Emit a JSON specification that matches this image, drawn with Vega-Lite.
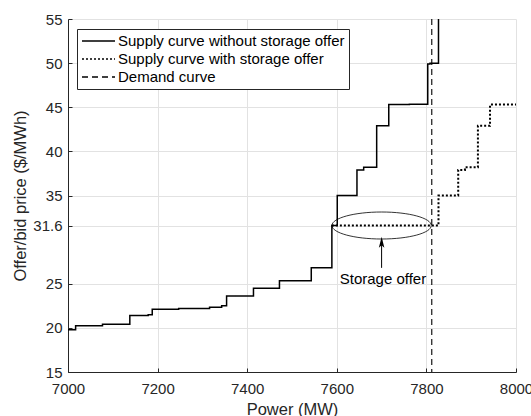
{
  "$schema": "https://vega.github.io/schema/vega-lite/v6.json",
  "width": 448,
  "height": 353,
  "autosize": {"type": "none"},
  "padding": {"left": 68, "top": 19, "right": 15, "bottom": 44},
  "background": "white",
  "config": {
    "font": "Liberation Sans",
    "view": {"stroke": null},
    "axis": {
      "domainColor": "#262626",
      "tickColor": "#262626",
      "labelColor": "#262626",
      "titleColor": "#262626",
      "labelFontSize": 15,
      "titleFontSize": 16.5,
      "titleFontWeight": "normal",
      "gridColor": "#e2e2e2",
      "gridWidth": 1,
      "tickSize": -4,
      "labelFlush": false,
      "labelOverlap": false
    }
  },
  "datasets": {
    "without": [
      {"series": "Supply curve without storage offer", "power": 7000, "price": 19.8},
      {"series": "Supply curve without storage offer", "power": 7017, "price": 20.25},
      {"series": "Supply curve without storage offer", "power": 7077, "price": 20.4},
      {"series": "Supply curve without storage offer", "power": 7138, "price": 21.4},
      {"series": "Supply curve without storage offer", "power": 7179, "price": 21.5},
      {"series": "Supply curve without storage offer", "power": 7188, "price": 22.1},
      {"series": "Supply curve without storage offer", "power": 7247, "price": 22.2},
      {"series": "Supply curve without storage offer", "power": 7316, "price": 22.35},
      {"series": "Supply curve without storage offer", "power": 7343, "price": 22.5},
      {"series": "Supply curve without storage offer", "power": 7354, "price": 23.6},
      {"series": "Supply curve without storage offer", "power": 7414, "price": 24.5},
      {"series": "Supply curve without storage offer", "power": 7472, "price": 25.35},
      {"series": "Supply curve without storage offer", "power": 7543, "price": 26.8},
      {"series": "Supply curve without storage offer", "power": 7589, "price": 31.6},
      {"series": "Supply curve without storage offer", "power": 7601, "price": 35.0},
      {"series": "Supply curve without storage offer", "power": 7645, "price": 37.9},
      {"series": "Supply curve without storage offer", "power": 7660, "price": 38.2},
      {"series": "Supply curve without storage offer", "power": 7689, "price": 42.9},
      {"series": "Supply curve without storage offer", "power": 7716, "price": 45.3},
      {"series": "Supply curve without storage offer", "power": 7762, "price": 45.35},
      {"series": "Supply curve without storage offer", "power": 7803, "price": 49.9},
      {"series": "Supply curve without storage offer", "power": 7808, "price": 50.0},
      {"series": "Supply curve without storage offer", "power": 7827, "price": 58}
    ],
    "with": [
      {"series": "Supply curve with storage offer", "power": 7589, "price": 31.6},
      {"series": "Supply curve with storage offer", "power": 7827, "price": 35.0},
      {"series": "Supply curve with storage offer", "power": 7871, "price": 37.9},
      {"series": "Supply curve with storage offer", "power": 7886, "price": 38.2},
      {"series": "Supply curve with storage offer", "power": 7915, "price": 42.9},
      {"series": "Supply curve with storage offer", "power": 7942, "price": 45.3},
      {"series": "Supply curve with storage offer", "power": 8000, "price": 45.35}
    ],
    "demand": [
      {"series": "Demand curve", "power": 7812}
    ],
    "ellipse": [
      {"power": 7700, "price": 31.6}
    ],
    "arrow": [
      {"power": 7700, "price": 26.8, "price2": 30.0, "tip": 29.7}
    ],
    "label": [
      {"power": 7703, "price": 25.0, "text": "Storage offer"}
    ]
  },
  "layer": [
    {
      "data": {"name": "without"},
      "mark": {"type": "line", "interpolate": "step-after", "clip": true, "color": "black", "strokeWidth": 1.5},
      "encoding": {
        "x": {
          "field": "power", "type": "quantitative",
          "scale": {"domain": [7000, 8000], "nice": false, "zero": false},
          "axis": {
            "title": "Power (MW)",
            "values": [7000, 7200, 7400, 7600, 7800, 8000],
            "format": "d",
            "labelPadding": 13,
            "titlePadding": 5
          }
        },
        "y": {
          "field": "price", "type": "quantitative",
          "scale": {"domain": [15, 55], "nice": false, "zero": false},
          "axis": {
            "title": "Offer/bid price ($/MWh)",
            "values": [15, 20, 25, 31.6, 35, 40, 45, 50, 55],
            "format": ".3~g",
            "labelPadding": 10,
            "titlePadding": 4
          }
        },
        "strokeDash": {
          "field": "series", "type": "nominal",
          "scale": {
            "domain": ["Supply curve without storage offer", "Supply curve with storage offer", "Demand curve"],
            "range": [[1, 0], [2, 2], [6, 4]]
          },
          "legend": {
            "title": null,
            "orient": "none",
            "legendX": 9,
            "legendY": 10,
            "symbolType": "stroke",
            "symbolSize": 1089,
            "symbolStrokeColor": "black",
            "symbolStrokeWidth": 1.5,
            "symbolOffset": 0,
            "labelOffset": 2,
            "labelFontSize": 15,
            "labelColor": "black",
            "labelLimit": 400,
            "clipHeight": 16,
            "rowPadding": 2,
            "padding": 4,
            "strokeColor": "#262626",
            "fillColor": "white"
          }
        }
      }
    },
    {
      "data": {"name": "with"},
      "mark": {"type": "line", "interpolate": "step-after", "clip": true, "color": "black", "strokeWidth": 2},
      "encoding": {
        "x": {"field": "power", "type": "quantitative"},
        "y": {"field": "price", "type": "quantitative"},
        "strokeDash": {"field": "series", "type": "nominal"}
      }
    },
    {
      "data": {"name": "demand"},
      "mark": {"type": "rule", "color": "black", "strokeWidth": 1.1},
      "encoding": {
        "x": {"field": "power", "type": "quantitative"},
        "strokeDash": {"field": "series", "type": "nominal"}
      }
    },
    {
      "data": {"name": "ellipse"},
      "mark": {
        "type": "point",
        "filled": false,
        "color": "black",
        "strokeWidth": 0.8,
        "opacity": 1,
        "size": 9860,
        "shape": "M-1,0 C-1,-0.15 -0.552,-0.272 0,-0.272 C0.552,-0.272 1,-0.15 1,0 C1,0.15 0.552,0.272 0,0.272 C-0.552,0.272 -1,0.15 -1,0 Z"
      },
      "encoding": {
        "x": {"field": "power", "type": "quantitative"},
        "y": {"field": "price", "type": "quantitative"}
      }
    },
    {
      "data": {"name": "arrow"},
      "mark": {"type": "rule", "color": "black", "strokeWidth": 1},
      "encoding": {
        "x": {"field": "power", "type": "quantitative"},
        "y": {"field": "price", "type": "quantitative"},
        "y2": {"field": "price2"}
      }
    },
    {
      "data": {"name": "arrow"},
      "mark": {
        "type": "point",
        "filled": true,
        "color": "black",
        "opacity": 1,
        "size": 121,
        "shape": "M0,-1 L0.5,1 L0,0.55 L-0.5,1 Z"
      },
      "encoding": {
        "x": {"field": "power", "type": "quantitative"},
        "y": {"field": "tip", "type": "quantitative"}
      }
    },
    {
      "data": {"name": "label"},
      "mark": {"type": "text", "fontSize": 15, "color": "black", "align": "center", "baseline": "alphabetic"},
      "encoding": {
        "x": {"field": "power", "type": "quantitative"},
        "y": {"field": "price", "type": "quantitative"},
        "text": {"field": "text"}
      }
    }
  ]
}
